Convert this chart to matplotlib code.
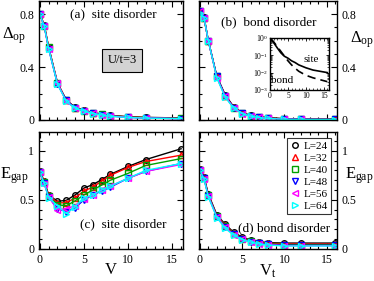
import numpy as np
import matplotlib as mpl
import matplotlib.pyplot as plt
from matplotlib.ticker import MultipleLocator, LogLocator, NullFormatter

mpl.rcParams['font.family'] = ['Liberation Serif', 'DejaVu Serif']
mpl.rcParams['mathtext.fontset'] = 'custom'
mpl.rcParams['mathtext.rm'] = 'Liberation Serif'
mpl.rcParams['mathtext.it'] = 'Liberation Serif'
mpl.rcParams['xtick.direction'] = 'in'
mpl.rcParams['ytick.direction'] = 'in'
mpl.rcParams['xtick.top'] = True
mpl.rcParams['ytick.right'] = True
mpl.rcParams['xtick.major.size'] = 4
mpl.rcParams['ytick.major.size'] = 4
mpl.rcParams['xtick.minor.size'] = 2.5
mpl.rcParams['ytick.minor.size'] = 2.5
mpl.rcParams['axes.linewidth'] = 1.0
mpl.rcParams['lines.linewidth'] = 1.0

V = [0, 0.5, 1, 2, 3, 4, 5, 6, 7, 8, 10, 12, 16]
sizes = [24, 32, 40, 48, 56, 64]
colors = ['black', 'red', '#00a000', 'blue', 'magenta', 'cyan']
markers = ['o', '^', 's', 'v', '<', '>']

# (a) order parameter, site disorder
delta_site = {
    24: [0.80, 0.72, 0.55, 0.28, 0.15, 0.095, 0.075, 0.055, 0.045, 0.035, 0.025, 0.02, 0.015],
    32: [0.80, 0.72, 0.55, 0.28, 0.15, 0.093, 0.073, 0.053, 0.043, 0.033, 0.023, 0.018, 0.013],
    40: [0.80, 0.71, 0.55, 0.28, 0.15, 0.092, 0.071, 0.052, 0.042, 0.032, 0.022, 0.017, 0.012],
    48: [0.80, 0.71, 0.54, 0.27, 0.15, 0.090, 0.070, 0.050, 0.040, 0.030, 0.020, 0.015, 0.010],
    56: [0.80, 0.71, 0.54, 0.28, 0.14, 0.090, 0.070, 0.050, 0.040, 0.030, 0.020, 0.015, 0.010],
    64: [0.80, 0.71, 0.54, 0.27, 0.14, 0.088, 0.068, 0.048, 0.038, 0.028, 0.019, 0.014, 0.010],
}
# (b) order parameter, bond disorder
delta_bond = {
    24: [0.82, 0.78, 0.60, 0.33, 0.19, 0.10, 0.055, 0.035, 0.025, 0.018, 0.010, 0.008, 0.006],
    32: [0.82, 0.77, 0.60, 0.33, 0.18, 0.095, 0.052, 0.032, 0.022, 0.016, 0.008, 0.006, 0.005],
    40: [0.82, 0.77, 0.60, 0.33, 0.18, 0.093, 0.050, 0.030, 0.020, 0.015, 0.007, 0.005, 0.004],
    48: [0.82, 0.77, 0.60, 0.33, 0.18, 0.093, 0.050, 0.030, 0.020, 0.014, 0.006, 0.005, 0.004],
    56: [0.82, 0.77, 0.60, 0.32, 0.18, 0.092, 0.049, 0.029, 0.019, 0.013, 0.006, 0.004, 0.003],
    64: [0.81, 0.77, 0.60, 0.32, 0.17, 0.090, 0.048, 0.028, 0.018, 0.012, 0.005, 0.004, 0.003],
}
# (c) gap, site disorder
gap_site = {
    24: [0.79, 0.69, 0.55, 0.485, 0.495, 0.55, 0.62, 0.655, 0.705, 0.76, 0.84, 0.91, 1.02],
    32: [0.79, 0.69, 0.55, 0.47, 0.47, 0.52, 0.59, 0.63, 0.69, 0.75, 0.83, 0.89, 0.955],
    40: [0.78, 0.68, 0.54, 0.45, 0.44, 0.49, 0.55, 0.60, 0.65, 0.70, 0.77, 0.85, 0.92],
    48: [0.78, 0.67, 0.53, 0.41, 0.38, 0.42, 0.50, 0.55, 0.59, 0.63, 0.72, 0.79, 0.87],
    56: [0.78, 0.66, 0.53, 0.40, 0.41, 0.44, 0.51, 0.55, 0.60, 0.64, 0.72, 0.79, 0.86],
    64: [0.78, 0.67, 0.52, 0.44, 0.36, 0.43, 0.52, 0.55, 0.60, 0.64, 0.72, 0.80, 0.87],
}
# (d) gap, bond disorder
gap_bond = {
    24: [0.81, 0.73, 0.56, 0.35, 0.25, 0.17, 0.12, 0.09, 0.075, 0.065, 0.06, 0.06, 0.06],
    32: [0.81, 0.73, 0.55, 0.34, 0.24, 0.16, 0.11, 0.085, 0.068, 0.058, 0.052, 0.05, 0.05],
    40: [0.80, 0.72, 0.55, 0.34, 0.23, 0.155, 0.105, 0.08, 0.062, 0.052, 0.045, 0.043, 0.043],
    48: [0.80, 0.72, 0.54, 0.33, 0.22, 0.15, 0.10, 0.075, 0.057, 0.047, 0.038, 0.037, 0.037],
    56: [0.80, 0.71, 0.54, 0.33, 0.22, 0.145, 0.098, 0.072, 0.053, 0.043, 0.034, 0.033, 0.033],
    64: [0.80, 0.71, 0.53, 0.32, 0.21, 0.14, 0.095, 0.07, 0.05, 0.04, 0.03, 0.03, 0.03],
}
# inset: order parameter on log scale, L=64
inset_site = [0.80, 0.71, 0.54, 0.27, 0.14, 0.088, 0.068, 0.048, 0.038, 0.028, 0.019, 0.014, 0.010]
inset_bond = [0.81, 0.77, 0.60, 0.32, 0.17, 0.090, 0.048, 0.028, 0.018, 0.012, 0.007, 0.005, 0.003]

fig = plt.figure(figsize=(3.74, 2.81), dpi=100)
ax_a = fig.add_axes([0.104, 0.573, 0.385, 0.424])
ax_b = fig.add_axes([0.532, 0.573, 0.369, 0.424])
ax_c = fig.add_axes([0.104, 0.114, 0.385, 0.416])
ax_d = fig.add_axes([0.532, 0.114, 0.369, 0.416])


def draw(ax, data):
    for L, c, m in zip(sizes, colors, markers):
        ax.plot(V, data[L], color=c, marker=m, markersize=4, mfc='none',
                mec=c, mew=1.0, lw=1.0, label='L=%d' % L)


draw(ax_a, delta_site)
draw(ax_b, delta_bond)
draw(ax_c, gap_site)
draw(ax_d, gap_bond)

for ax in (ax_a, ax_b, ax_c, ax_d):
    ax.set_xlim(-0.1, 16.2)
    ax.xaxis.set_major_locator(MultipleLocator(5))
    ax.xaxis.set_minor_locator(MultipleLocator(1))
    ax.tick_params(labelsize=8.5, which='both', width=0.8)

for ax in (ax_a, ax_b):
    ax.set_ylim(0, 0.9)
    ax.yaxis.set_major_locator(MultipleLocator(0.4))
    ax.yaxis.set_minor_locator(MultipleLocator(0.1))
    ax.tick_params(labelbottom=False)

for ax in (ax_c, ax_d):
    ax.set_ylim(0, 1.19)
    ax.yaxis.set_major_locator(MultipleLocator(0.5))
    ax.yaxis.set_minor_locator(MultipleLocator(0.1))

fmt = mpl.ticker.FuncFormatter(lambda v, p: '0' if v == 0 else '%g' % v)
for ax in (ax_a, ax_b, ax_c, ax_d):
    ax.yaxis.set_major_formatter(fmt)
ax_b.tick_params(labelleft=False, labelright=True)
ax_d.tick_params(labelleft=False, labelright=True)

ax_a.set_ylabel(r'$\Delta_{\rm op}$', fontsize=12, rotation=0, ha='center', va='center')
ax_a.yaxis.set_label_coords(-0.175, 0.71)
ax_b.yaxis.set_label_position('right')
ax_b.set_ylabel(r'$\Delta_{\rm op}$', fontsize=12, rotation=0, ha='center', va='center')
ax_b.yaxis.set_label_coords(1.18, 0.67)
ax_c.set_ylabel(r'$E_{\rm gap}$', fontsize=12, rotation=0, ha='center', va='center')
ax_c.yaxis.set_label_coords(-0.17, 0.63)
ax_d.yaxis.set_label_position('right')
ax_d.set_ylabel(r'$E_{\rm gap}$', fontsize=12, rotation=0, ha='center', va='center')
ax_d.yaxis.set_label_coords(1.16, 0.63)
ax_c.set_xlabel('V', fontsize=12, labelpad=-2.5)
ax_d.set_xlabel(r'V$_{\rm t}$', fontsize=12, labelpad=-2.5)

ax_a.text(8.3, 0.8, '(a)  site disorder', fontsize=9.5, ha='center', va='center')
ax_a.text(9.3, 0.45, 'U/t=3', fontsize=9, ha='center', va='center',
          bbox=dict(boxstyle='square,pad=0.45', fc='#d3d3d3', ec='black', lw=0.8))
ax_b.text(8.1, 0.74, '(b)  bond disorder', fontsize=9.5, ha='center', va='center')
ax_c.text(9.4, 0.25, '(c)  site disorder', fontsize=9.5, ha='center', va='center')
ax_d.text(9.9, 0.21, '(d) bond disorder', fontsize=9.5, ha='center', va='center')

leg = ax_d.legend(loc='upper right', fontsize=8, frameon=True, fancybox=False,
                  edgecolor='black', handlelength=0.8, handletextpad=0.4,
                  borderpad=0.3, labelspacing=0.2, borderaxespad=0.5)
leg.get_frame().set_linewidth(0.8)
for h in leg.legend_handles:
    h.set_linestyle('none')

ins = fig.add_axes([0.722, 0.680, 0.158, 0.185])
ins.semilogy(V, inset_site, color='black', lw=1.2)
ins.semilogy(V, inset_bond, color='black', lw=1.2, ls=(0, (5, 3)))
ins.set_xlim(0, 16.5)
ins.set_ylim(1e-3, 1)
ins.xaxis.set_major_locator(MultipleLocator(5))
ins.xaxis.set_minor_locator(MultipleLocator(1))
ins.yaxis.set_major_locator(LogLocator(base=10, numticks=5))
ins.yaxis.set_minor_locator(LogLocator(base=10, subs=np.arange(2, 10), numticks=10))
ins.yaxis.set_minor_formatter(NullFormatter())
ins.tick_params(labelsize=5.5, which='major', length=2.5, width=0.6, pad=1.5)
ins.tick_params(which='minor', length=1.5, width=0.5)
ins.text(11.5, 0.06, 'site', fontsize=8, ha='center', va='center')
ins.text(3.5, 0.0035, 'bond', fontsize=8, ha='center', va='center')

plt.savefig('out.png', dpi=100)
